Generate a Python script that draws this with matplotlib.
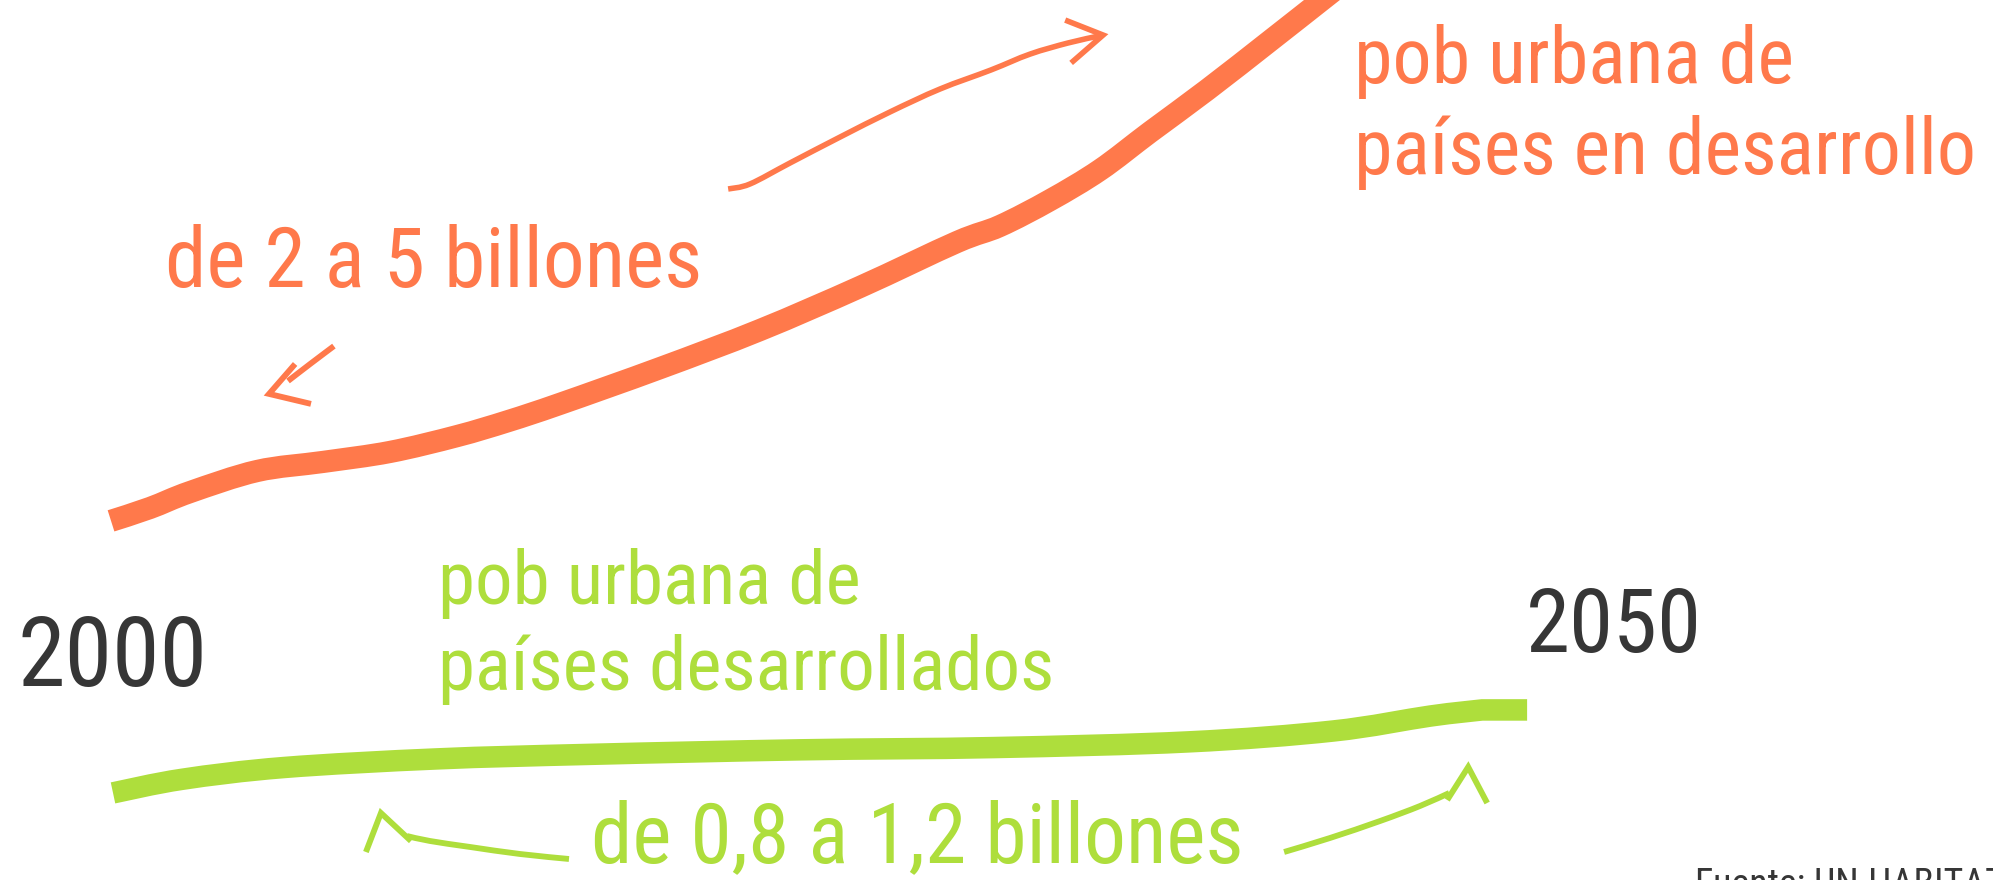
import matplotlib
matplotlib.use("Agg")
import matplotlib.pyplot as plt
from matplotlib import font_manager as fm
from matplotlib.path import Path
from matplotlib.patches import PathPatch

# ---------------- data ----------------
# urban population, billions; x = year
years = [2000, 2050]
developing_range = [2, 5]      # "de 2 a 5 billones"
developed_range = [0.8, 1.2]   # "de 0,8 a 1,2 billones"

developing_years = [2000.00, 2001.38, 2002.79, 2005.16, 2007.49, 2009.85, 2012.22,
                    2014.02, 2015.85, 2019.39, 2022.92, 2026.45, 2029.87, 2031.39,
                    2033.16, 2034.92, 2036.69, 2038.70, 2040.96, 2042.76, 2044.10]
developing_values = [1.99, 2.047, 2.117, 2.210, 2.250, 2.294, 2.364,
                     2.430, 2.506, 2.664, 2.832, 3.022, 3.220, 3.291,
                     3.405, 3.538, 3.705, 3.891, 4.111, 4.288, 4.420]

developed_years = [2000.07, 2002.51, 2006.11, 2011.51, 2016.91, 2024.33, 2031.18,
                   2038.03, 2043.15, 2046.58, 2048.41, 2050.00]
developed_values = [0.790, 0.850, 0.902, 0.940, 0.960, 0.980, 0.990,
                    1.015, 1.063, 1.129, 1.156, 1.156]

# annotation arrows (year, value)
arrow_up_shaft_x = [2021.79, 2022.56, 2023.98, 2025.74, 2027.51, 2029.27, 2031.07, 2032.45, 2033.79, 2034.89]
arrow_up_shaft_y = [3.454, 3.476, 3.569, 3.683, 3.794, 3.895, 3.979, 4.049, 4.098, 4.129]
arrow_up_head_x = [2033.69, 2035.03, 2033.90]
arrow_up_head_y = [4.199, 4.133, 4.010]

arrow_down_shaft_x = [2007.87, 2007.03, 2006.25]
arrow_down_shaft_y = [2.761, 2.682, 2.607]
arrow_down_head_x = [2006.50, 2005.58, 2007.06]
arrow_down_head_y = [2.682, 2.550, 2.506]

garrow_l_shaft_x = [2016.17, 2014.44, 2012.68, 2011.26, 2010.45]
garrow_l_shaft_y = [0.4985, 0.5205, 0.5514, 0.5779, 0.5999]
garrow_l_head_x = [2009.00, 2009.53, 2010.59]
garrow_l_head_y = [0.5293, 0.7014, 0.5779]

garrow_r_shaft_x = [2041.42, 2043.04, 2044.81, 2046.22, 2047.25]
garrow_r_shaft_y = [0.5293, 0.5911, 0.6661, 0.7323, 0.7896]
garrow_r_head_x = [2047.18, 2047.92, 2048.59]
garrow_r_head_y = [0.7587, 0.9043, 0.7455]

# texts
title_dev = ["pob urbana de", "países en desarrollo"]
title_ind = ["pob urbana de", "países desarrollados"]
range_dev = "de 2 a 5 billones"
range_ind = "de 0,8 a 1,2 billones"
year_labels = ["2000", "2050"]
source = "Fuente: UN-HABITAT"

ORANGE = "#FF794B"
GREEN = "#AEDE3C"
DARK = "#363636"

W, H = 1993, 880
fig = plt.figure(figsize=(W / 100, H / 100), dpi=100)
fig.patch.set_facecolor("white")
ax = fig.add_axes([0, 0, 1, 1])
ax.axis("off")
ax.set_xlim(1996.08, 2066.45)
ax.set_ylim(0.4058, 4.2876)


def smooth_path(xs, ys, tail_straight=0):
    """Catmull-Rom curve through the given points (as cubic Bezier segments)."""
    n = len(xs) - tail_straight
    pts = list(zip(xs, ys))
    verts = [pts[0]]
    codes = [Path.MOVETO]
    for i in range(n - 1):
        p0 = pts[i - 1] if i > 0 else pts[i]
        p1 = pts[i]
        p2 = pts[i + 1]
        p3 = pts[i + 2] if i + 2 < n else pts[i + 1]
        c1 = (p1[0] + (p2[0] - p0[0]) / 6, p1[1] + (p2[1] - p0[1]) / 6)
        c2 = (p2[0] - (p3[0] - p1[0]) / 6, p2[1] - (p3[1] - p1[1]) / 6)
        verts += [c1, c2, p2]
        codes += [Path.CURVE4] * 3
    for p in pts[n:]:
        verts.append(p)
        codes.append(Path.LINETO)
    return Path(verts, codes)


def curve(xs, ys, color, lw, tail_straight=0, join="round"):
    patch = PathPatch(smooth_path(xs, ys, tail_straight), facecolor="none",
                      edgecolor=color, lw=lw, capstyle="butt", joinstyle=join)
    ax.add_patch(patch)


# main lines
curve(developing_years, developing_values, ORANGE, 16)
curve(developed_years, developed_values, GREEN, 15.5, tail_straight=1, join="miter")


# arrows
def arrow(sx, sy, hx, hy, color, lw):
    curve(sx, sy, color, lw)
    ax.plot(hx, hy, color=color, lw=lw, solid_capstyle="butt", solid_joinstyle="miter")


arrow(arrow_up_shaft_x, arrow_up_shaft_y, arrow_up_head_x, arrow_up_head_y, ORANGE, 4.0)
arrow(arrow_down_shaft_x, arrow_down_shaft_y, arrow_down_head_x, arrow_down_head_y, ORANGE, 4.2)
arrow(garrow_l_shaft_x, garrow_l_shaft_y, garrow_l_head_x, garrow_l_head_y, GREEN, 4.2)
arrow(garrow_r_shaft_x, garrow_r_shaft_y, garrow_r_head_x, garrow_r_head_y, GREEN, 4.2)

# fonts
names = {f.name for f in fm.fontManager.ttflist}
family = None
stretch = "normal"
for cand in ["Roboto Condensed", "Liberation Sans Narrow", "Open Sans Condensed", "Noto Sans Condensed"]:
    if cand in names:
        family = cand
        break
if family is None:
    family = "DejaVu Sans"
    stretch = "condensed"

renderer = fig.canvas.get_renderer()


def fit_text(x_px, y_px, s, width_px, color, max_size=200, va="baseline"):
    t = fig.text(x_px / W, 1 - y_px / H, s, color=color, fontsize=50,
                 family=[family, "DejaVu Sans"], fontstretch=stretch,
                 ha="left", va=va)
    w = t.get_window_extent(renderer).width
    t.set_fontsize(min(50 * width_px / w, max_size))
    return t


def same_size_text(x_px, y_px, s, color, size):
    return fig.text(x_px / W, 1 - y_px / H, s, color=color, fontsize=size,
                    family=[family, "DejaVu Sans"], fontstretch=stretch,
                    ha="left", va="baseline")


# orange title
t1 = fit_text(1354, 174, title_dev[1], 623, ORANGE, max_size=64)
same_size_text(1354, 83, title_dev[0], ORANGE, t1.get_fontsize())
fit_text(165, 287, range_dev, 553, ORANGE, max_size=60)

# green title
t2 = fit_text(438, 690, title_ind[1], 617, GREEN, max_size=64)
same_size_text(438, 604, title_ind[0], GREEN, t2.get_fontsize())
fit_text(591, 862, range_ind, 661, GREEN, max_size=60)

# years
fit_text(17, 686, year_labels[0], 190, DARK, max_size=95)
fit_text(1526, 652, year_labels[1], 176, DARK, max_size=95)

# source (runs off the lower-right corner as in the original)
fit_text(1695, 867, source, 310, DARK, max_size=40, va="top")

fig.savefig("out.png", dpi=100, facecolor="white")
